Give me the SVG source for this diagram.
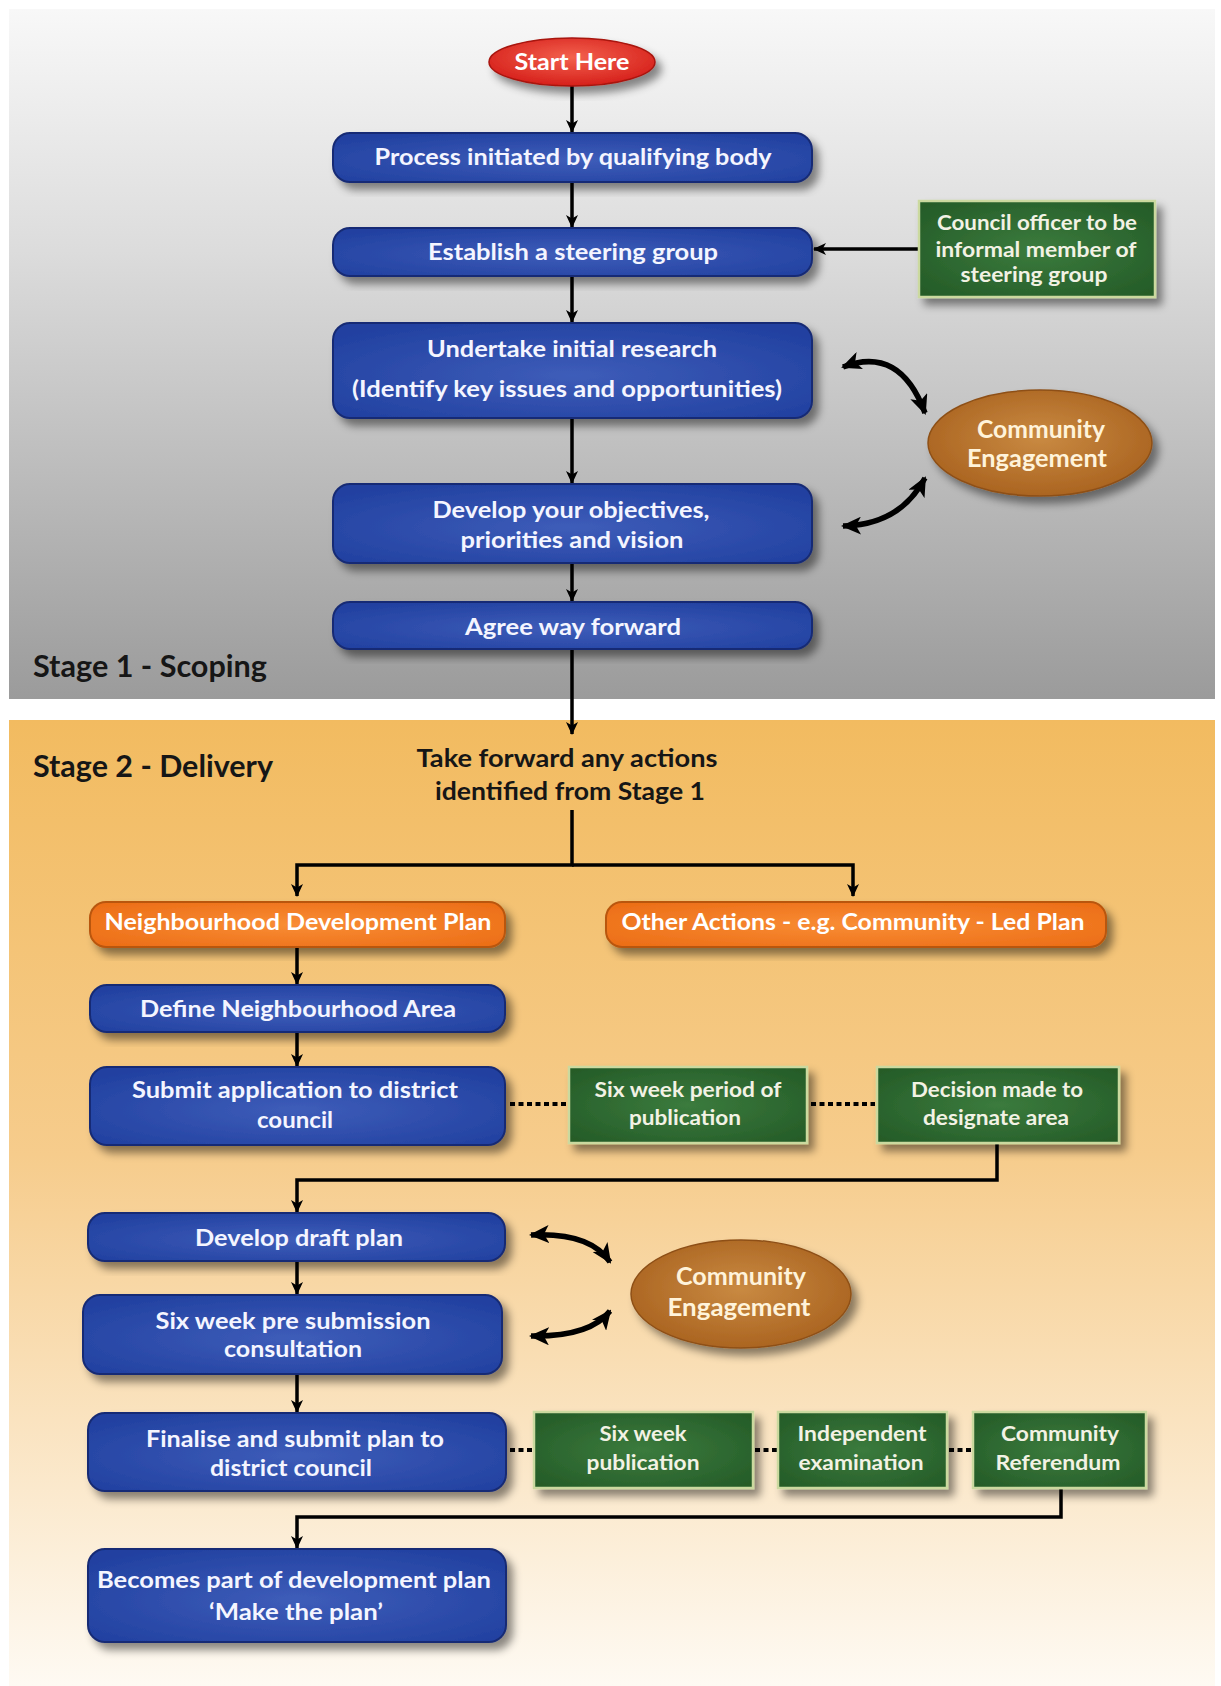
<svg xmlns="http://www.w3.org/2000/svg" width="1221" height="1686" viewBox="0 0 1221 1686">
<defs>
<linearGradient id="gGray" x1="0" y1="0" x2="0" y2="1">
<stop offset="0" stop-color="#f8f8f8"/><stop offset="0.35" stop-color="#dcdcdc"/><stop offset="1" stop-color="#9b9b9b"/>
</linearGradient>
<linearGradient id="gOrangeBg" x1="0" y1="0" x2="0" y2="1">
<stop offset="0" stop-color="#f2bb60"/><stop offset="0.45" stop-color="#f6cc8c"/><stop offset="1" stop-color="#fefaf3"/>
</linearGradient>
<radialGradient id="gBlue" cx="0.5" cy="0.55" r="0.65">
<stop offset="0" stop-color="#3e5db9"/><stop offset="1" stop-color="#2140a0"/>
</radialGradient>
<radialGradient id="gOrange" cx="0.5" cy="0.5" r="0.65">
<stop offset="0" stop-color="#f98d35"/><stop offset="1" stop-color="#ec6e17"/>
</radialGradient>
<radialGradient id="gGreen" cx="0.5" cy="0.5" r="0.65">
<stop offset="0" stop-color="#3b7b3d"/><stop offset="1" stop-color="#255c28"/>
</radialGradient>
<radialGradient id="gBrown" cx="0.5" cy="0.45" r="0.6">
<stop offset="0" stop-color="#c98a42"/><stop offset="1" stop-color="#a8611e"/>
</radialGradient>
<radialGradient id="gRed" cx="0.5" cy="0.4" r="0.6">
<stop offset="0" stop-color="#f3614e"/><stop offset="1" stop-color="#d6201b"/>
</radialGradient>
<filter id="sh" x="-10%" y="-20%" width="125%" height="150%">
<feDropShadow dx="6" dy="7" stdDeviation="4" flood-color="#000" flood-opacity="0.45"/>
</filter>
<marker id="ah" viewBox="0 0 13 12" markerWidth="13" markerHeight="12" refX="12" refY="6" orient="auto" markerUnits="userSpaceOnUse">
<path d="M0,0 L13,6 L0,12 L3.5,6 z" fill="#000"/>
</marker>
<marker id="ch" viewBox="0 0 20 18" markerWidth="20" markerHeight="18" refX="18" refY="9" orient="auto-start-reverse" markerUnits="userSpaceOnUse">
<path d="M0,0 L20,9 L0,18 L5,9 z" fill="#000"/>
</marker>
<style>
.blue{fill:url(#gBlue);stroke:#182c74;stroke-width:2;filter:url(#sh)}
.orng{fill:url(#gOrange);stroke:#b9560f;stroke-width:2;filter:url(#sh)}
.grn{fill:url(#gGreen);stroke:#cbd99f;stroke-width:2.5;filter:url(#sh)}
.brn{fill:url(#gBrown);stroke:#8e5018;stroke-width:1.5;filter:url(#sh)}
.red{fill:url(#gRed);stroke:#a8150f;stroke-width:1.5;filter:url(#sh)}
text{font-family:Lato,"Open Sans","Liberation Sans",sans-serif;font-weight:700;text-anchor:middle}
.bt{font-size:22px;fill:#f4f5ff}
.wt{font-size:22px;fill:#fff}
.gt{font-size:21px;fill:#f2f2e4}
.ct{font-size:25px;fill:#fff3da}
.hd{font-size:31px;fill:#161616;text-anchor:start}
.dk{font-size:24px;fill:#161616}
.ln{fill:none;stroke:#000;stroke-width:3.5}
.dot{fill:none;stroke:#000;stroke-width:4;stroke-dasharray:5 3.5}
.cv{fill:none;stroke:#000;stroke-width:5.5}
</style>
</defs>
<rect width="1221" height="1686" fill="#fff"/>
<rect x="9" y="9" width="1206" height="690" fill="url(#gGray)"/>
<rect x="9" y="720" width="1206" height="966" fill="url(#gOrangeBg)"/>
<text class="hd" x="33" y="677" textLength="234" lengthAdjust="spacingAndGlyphs">Stage 1 - Scoping</text>
<text class="hd" x="33" y="777" textLength="240" lengthAdjust="spacingAndGlyphs">Stage 2 - Delivery</text>

<g id="connectors">
<line class="ln" x1="572" y1="86" x2="572" y2="132" marker-end="url(#ah)"/>
<line class="ln" x1="572" y1="182" x2="572" y2="227" marker-end="url(#ah)"/>
<line class="ln" x1="572" y1="276" x2="572" y2="322" marker-end="url(#ah)"/>
<line class="ln" x1="572" y1="418" x2="572" y2="483" marker-end="url(#ah)"/>
<line class="ln" x1="572" y1="563" x2="572" y2="601" marker-end="url(#ah)"/>
<line class="ln" x1="572" y1="649" x2="572" y2="734" marker-end="url(#ah)"/>
<line class="ln" x1="919" y1="249" x2="814" y2="249" marker-end="url(#ah)"/>
<path class="cv" d="M843,367 Q900,345 925,413" marker-start="url(#ch)" marker-end="url(#ch)"/>
<path class="cv" d="M843,526 Q900,525 925,478" marker-start="url(#ch)" marker-end="url(#ch)"/>
<polyline class="ln" points="572,810 572,865 297,865 297,896" marker-end="url(#ah)"/>
<polyline class="ln" points="572,865 853,865 853,896" marker-end="url(#ah)"/>
<line class="ln" x1="297" y1="947" x2="297" y2="984" marker-end="url(#ah)"/>
<line class="ln" x1="297" y1="1032" x2="297" y2="1066" marker-end="url(#ah)"/>
<line class="dot" x1="510" y1="1104" x2="566" y2="1104"/>
<line class="dot" x1="811" y1="1104" x2="875" y2="1104"/>
<polyline class="ln" points="997,1143 997,1180 297,1180 297,1212" marker-end="url(#ah)"/>
<line class="ln" x1="297" y1="1261" x2="297" y2="1294" marker-end="url(#ah)"/>
<line class="ln" x1="297" y1="1374" x2="297" y2="1412" marker-end="url(#ah)"/>
<path class="cv" d="M531,1235 Q590,1232 610,1262" marker-start="url(#ch)" marker-end="url(#ch)"/>
<path class="cv" d="M531,1336 Q590,1337 610,1311" marker-start="url(#ch)" marker-end="url(#ch)"/>
<line class="dot" x1="510" y1="1450" x2="532" y2="1450"/>
<line class="dot" x1="755" y1="1450" x2="777" y2="1450"/>
<line class="dot" x1="949" y1="1450" x2="971" y2="1450"/>
<polyline class="ln" points="1061,1488 1061,1517 297,1517 297,1548" marker-end="url(#ah)"/>
</g>

<g id="start"><ellipse class="red" cx="572" cy="62" rx="83" ry="24"/><text class="wt" x="572" y="70" textLength="115" lengthAdjust="spacingAndGlyphs">Start Here</text></g>
<g id="process"><rect class="blue" x="333" y="133" width="479" height="49" rx="17"/><text class="bt" x="573" y="165" textLength="397" lengthAdjust="spacingAndGlyphs">Process initiated by qualifying body</text></g>
<g id="steering"><rect class="blue" x="333" y="228" width="479" height="48" rx="17"/><text class="bt" x="573" y="260" textLength="290" lengthAdjust="spacingAndGlyphs">Establish a steering group</text></g>
<g id="council"><rect class="grn" x="919" y="201" width="236" height="96"/><text class="gt" x="1037" y="230" textLength="200" lengthAdjust="spacingAndGlyphs">Council officer to be</text><text class="gt" x="1036" y="257" textLength="201" lengthAdjust="spacingAndGlyphs">informal member of</text><text class="gt" x="1034" y="282" textLength="147" lengthAdjust="spacingAndGlyphs">steering group</text></g>
<g id="research"><rect class="blue" x="333" y="323" width="479" height="95" rx="17"/><text class="bt" x="572" y="357" textLength="290" lengthAdjust="spacingAndGlyphs">Undertake initial research</text><text class="bt" x="567" y="397" textLength="430" lengthAdjust="spacingAndGlyphs">(Identify key issues and opportunities)</text></g>
<g id="engage1"><ellipse class="brn" cx="1040" cy="443" rx="112" ry="53"/><text class="ct" x="1041" y="438" textLength="128" lengthAdjust="spacingAndGlyphs">Community</text><text class="ct" x="1037" y="467" textLength="140" lengthAdjust="spacingAndGlyphs">Engagement</text></g>
<g id="objectives"><rect class="blue" x="333" y="484" width="479" height="79" rx="17"/><text class="bt" x="571" y="518" textLength="277" lengthAdjust="spacingAndGlyphs">Develop your objectives,</text><text class="bt" x="572" y="548" textLength="223" lengthAdjust="spacingAndGlyphs">priorities and vision</text></g>
<g id="agree"><rect class="blue" x="333" y="602" width="479" height="47" rx="17"/><text class="bt" x="573" y="635" textLength="216" lengthAdjust="spacingAndGlyphs">Agree way forward</text></g>
<g id="takeforward"><text class="dk" x="567" y="767" textLength="301" lengthAdjust="spacingAndGlyphs">Take forward any actions</text><text class="dk" x="570" y="800" textLength="270" lengthAdjust="spacingAndGlyphs">identified from Stage 1</text></g>
<g id="ndp"><rect class="orng" x="90" y="902" width="415" height="45" rx="16"/><text class="wt" x="298" y="930" textLength="387" lengthAdjust="spacingAndGlyphs">Neighbourhood Development Plan</text></g>
<g id="other"><rect class="orng" x="606" y="902" width="500" height="45" rx="16"/><text class="wt" x="853" y="930" textLength="463" lengthAdjust="spacingAndGlyphs">Other Actions - e.g. Community - Led Plan</text></g>
<g id="define"><rect class="blue" x="90" y="985" width="415" height="47" rx="17"/><text class="bt" x="298" y="1017" textLength="316" lengthAdjust="spacingAndGlyphs">Define Neighbourhood Area</text></g>
<g id="submit"><rect class="blue" x="90" y="1067" width="415" height="78" rx="17"/><text class="bt" x="295" y="1098" textLength="326" lengthAdjust="spacingAndGlyphs">Submit application to district</text><text class="bt" x="295" y="1128" textLength="76" lengthAdjust="spacingAndGlyphs">council</text></g>
<g id="sixweek1"><rect class="grn" x="569" y="1067" width="238" height="76"/><text class="gt" x="688" y="1097" textLength="187" lengthAdjust="spacingAndGlyphs">Six week period of</text><text class="gt" x="685" y="1125" textLength="112" lengthAdjust="spacingAndGlyphs">publication</text></g>
<g id="decision"><rect class="grn" x="877" y="1067" width="242" height="76"/><text class="gt" x="997" y="1097" textLength="172" lengthAdjust="spacingAndGlyphs">Decision made to</text><text class="gt" x="996" y="1125" textLength="146" lengthAdjust="spacingAndGlyphs">designate area</text></g>
<g id="draft"><rect class="blue" x="88" y="1213" width="417" height="48" rx="17"/><text class="bt" x="299" y="1246" textLength="208" lengthAdjust="spacingAndGlyphs">Develop draft plan</text></g>
<g id="presub"><rect class="blue" x="83" y="1295" width="419" height="79" rx="17"/><text class="bt" x="293" y="1329" textLength="275" lengthAdjust="spacingAndGlyphs">Six week pre submission</text><text class="bt" x="293" y="1357" textLength="138" lengthAdjust="spacingAndGlyphs">consultation</text></g>
<g id="engage2"><ellipse class="brn" cx="741" cy="1294" rx="110" ry="54"/><text class="ct" x="741" y="1285" textLength="130" lengthAdjust="spacingAndGlyphs">Community</text><text class="ct" x="739" y="1316" textLength="143" lengthAdjust="spacingAndGlyphs">Engagement</text></g>
<g id="finalise"><rect class="blue" x="88" y="1413" width="418" height="78" rx="17"/><text class="bt" x="295" y="1447" textLength="298" lengthAdjust="spacingAndGlyphs">Finalise and submit plan to</text><text class="bt" x="291" y="1476" textLength="162" lengthAdjust="spacingAndGlyphs">district council</text></g>
<g id="sixweek2"><rect class="grn" x="534" y="1412" width="219" height="76"/><text class="gt" x="643" y="1441" textLength="87" lengthAdjust="spacingAndGlyphs">Six week</text><text class="gt" x="643" y="1470" textLength="113" lengthAdjust="spacingAndGlyphs">publication</text></g>
<g id="exam"><rect class="grn" x="778" y="1412" width="169" height="76"/><text class="gt" x="862" y="1441" textLength="129" lengthAdjust="spacingAndGlyphs">Independent</text><text class="gt" x="861" y="1470" textLength="125" lengthAdjust="spacingAndGlyphs">examination</text></g>
<g id="referendum"><rect class="grn" x="973" y="1412" width="173" height="76"/><text class="gt" x="1060" y="1441" textLength="118" lengthAdjust="spacingAndGlyphs">Community</text><text class="gt" x="1058" y="1470" textLength="125" lengthAdjust="spacingAndGlyphs">Referendum</text></g>
<g id="becomes"><rect class="blue" x="88" y="1549" width="418" height="93" rx="17"/><text class="bt" x="294" y="1588" textLength="394" lengthAdjust="spacingAndGlyphs">Becomes part of development plan</text><text class="bt" x="296" y="1620" textLength="174" lengthAdjust="spacingAndGlyphs">‘Make the plan’</text></g>
</svg>
